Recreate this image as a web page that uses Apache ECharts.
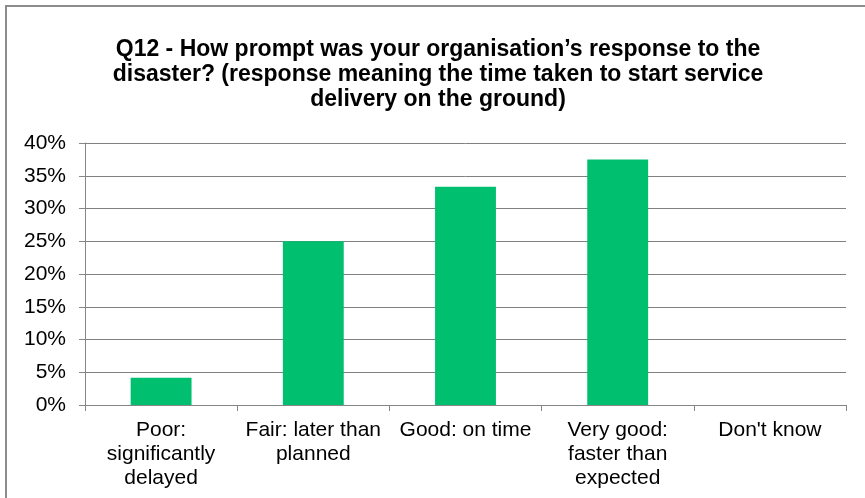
<!DOCTYPE html>
<html lang="en">
<head>
  <meta charset="UTF-8">
  <title>Q12 response</title>
  <script src="https://cdn.jsdelivr.net/npm/echarts@6/dist/echarts.min.js"></script>
  <style>
    html, body { margin: 0; padding: 0; background: #fff; }
  </style>
</head>
<body>
<div id="main" style="width: 865px;height:498px;"></div>
<script type="text/javascript">
  // categories (line breaks as wrapped in the original chart)
  var categories = ['Poor:\nsignificantly\ndelayed', 'Fair: later than\nplanned', 'Good: on time', 'Very good:\nfaster than\nexpected', "Don't know"];
  // share of responses, percent
  var values = [4.17, 25.0, 33.33, 37.5, 0];
  var titleText = 'Q12 - How prompt was your organisation\u2019s response to the\ndisaster? (response meaning the time taken to start service\ndelivery on the ground)';

  var myChart = echarts.init(document.getElementById('main'));
  myChart.setOption({
    animation: false,
    title: {
      text: titleText,
      left: 433,
      top: 32,
      textAlign: 'center',
      textStyle: {
        fontFamily: 'Liberation Sans',
        fontWeight: 'bold',
        fontSize: 23,
        lineHeight: 25,
        color: '#000'
      }
    },
    graphic: [{
      type: 'rect',
      shape: { x: 6, y: 6, width: 900, height: 600 },
      style: { fill: 'none', stroke: '#8c8c8c', lineWidth: 2 },
      silent: true
    }],
    grid: { left: 85, right: 19, top: 143, bottom: 93 },
    xAxis: {
      type: 'category',
      data: categories,
      axisLine: { lineStyle: { color: '#868686', width: 1 } },
      axisTick: { show: true, alignWithLabel: false, length: 6, lineStyle: { color: '#868686' } },
      axisLabel: {
        interval: 0,
        color: '#000',
        fontFamily: 'Liberation Sans',
        fontSize: 21,
        lineHeight: 24,
        margin: 13
      }
    },
    yAxis: {
      type: 'value',
      min: 0,
      max: 40,
      interval: 5,
      axisLine: { show: true, lineStyle: { color: '#868686', width: 1 } },
      axisTick: { show: true, length: 6, lineStyle: { color: '#868686' } },
      splitLine: { lineStyle: { color: '#808080', width: 1 } },
      axisLabel: {
        formatter: '{value}%',
        color: '#000',
        fontFamily: 'Liberation Sans',
        fontSize: 21,
        margin: 19
      }
    },
    series: [{
      type: 'bar',
      data: values,
      barWidth: '40%',
      itemStyle: { color: '#00bf6f' }
    }]
  });
</script>
</body>
</html>
